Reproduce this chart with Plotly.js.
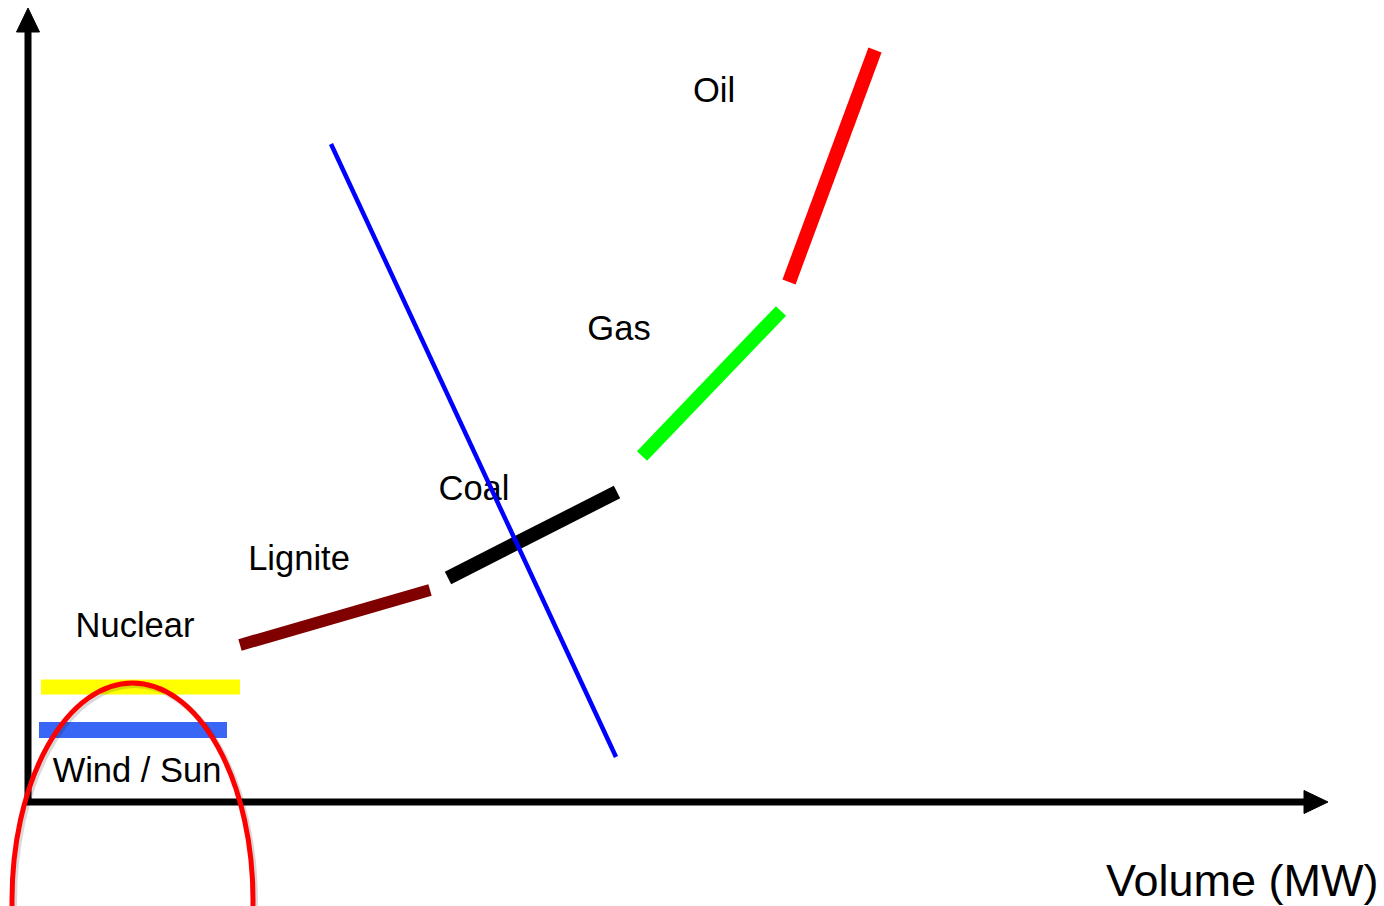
<!DOCTYPE html>
<html>
<head>
<meta charset="utf-8">
<script src="https://cdn.plot.ly/plotly-3.0.1.min.js"></script>
<style>html,body{margin:0;padding:0;background:#fff;}#chart{width:1384px;height:906px;}</style>
</head>
<body>
<div id="chart"></div>
<script>
// Merit-order schematic (arbitrary units: volume on x, price on y)
const categories = ['Wind / Sun', 'Nuclear', 'Lignite', 'Coal', 'Gas', 'Oil'];
const volumeStart = [1.1, 1.3, 21.2, 42.0, 61.4, 76.1];
const volumeEnd   = [19.9, 21.2, 40.2, 58.9, 75.3, 84.7];
const priceStart  = [7.2, 11.5, 15.7, 22.4, 34.6, 52.0];
const priceEnd    = [7.2, 11.5, 21.2, 31.0, 49.1, 75.2];
const colors      = ['#3a66f6', '#ffff00', '#800000', '#000000', '#00ff00', '#ff0000'];
const widths      = [16, 15, 12, 14, 14, 14];

const labelX = [10.9, 10.7, 27.1, 44.6, 59.1, 68.6];
const labelY = [2.9, 17.4, 24.1, 31.1, 47.1, 70.9];

const demandVolume = [30.3, 58.8];
const demandPrice  = [65.8, 4.5];

const xAxisTitle = 'Volume (MW)';

const traces = [];
categories.forEach((c, i) => {
  traces.push({
    type: 'scatter', mode: 'lines', name: c,
    x: [volumeStart[i], volumeEnd[i]],
    y: [priceStart[i], priceEnd[i]],
    line: {color: colors[i], width: widths[i]},
    hoverinfo: 'name'
  });
});
traces.push({
  type: 'scatter', mode: 'text',
  x: labelX, y: labelY, text: categories,
  textposition: 'middle center',
  textfont: {family: 'Liberation Sans, Arial, sans-serif', size: 34.5, color: '#000'},
  hoverinfo: 'skip'
});
traces.push({
  type: 'scatter', mode: 'lines', name: 'Demand',
  x: demandVolume, y: demandPrice,
  line: {color: '#0000ff', width: 4.5}
});

const layout = {
  width: 1384, height: 906,
  margin: {l: 0, r: 0, t: 0, b: 0},
  paper_bgcolor: '#fff', plot_bgcolor: '#fff',
  showlegend: false,
  xaxis: {range: [-2.8, 135.6], visible: false, fixedrange: true},
  yaxis: {range: [-10.4, 80.2], visible: false, fixedrange: true},
  shapes: [
    // axes
    {type: 'path', xref: 'x', yref: 'y', path: 'M0,77.2 L0,0 L127.8,0', line: {color: '#000', width: 7}},
    {type: 'path', xref: 'x', yref: 'y', path: 'M-1.15,77.0 L0,79.4 L1.15,77.0 Z', fillcolor: '#000', line: {color: '#000', width: 1}},
    {type: 'path', xref: 'x', yref: 'y', path: 'M127.6,1.15 L130.0,0 L127.6,-1.15 Z', fillcolor: '#000', line: {color: '#000', width: 1}},
    // highlight ellipse (shadow + ring)
    {type: 'circle', xref: 'x', yref: 'y', x0: -1.4, x1: 22.7, y0: 11.7, y1: -31.7, line: {color: 'rgba(0,0,0,0.15)', width: 6}},
    {type: 'circle', xref: 'x', yref: 'y', x0: -1.6, x1: 22.5, y0: 11.9, y1: -31.5, line: {color: '#ff0000', width: 5}}
  ],
  annotations: [
    {xref: 'x', yref: 'y', x: 121.4, y: -7.8, text: xAxisTitle, showarrow: false,
     font: {family: 'Liberation Sans, Arial, sans-serif', size: 45, color: '#000'}}
  ]
};

Plotly.newPlot('chart', traces, layout, {displayModeBar: false, staticPlot: true});
</script>
</body>
</html>
